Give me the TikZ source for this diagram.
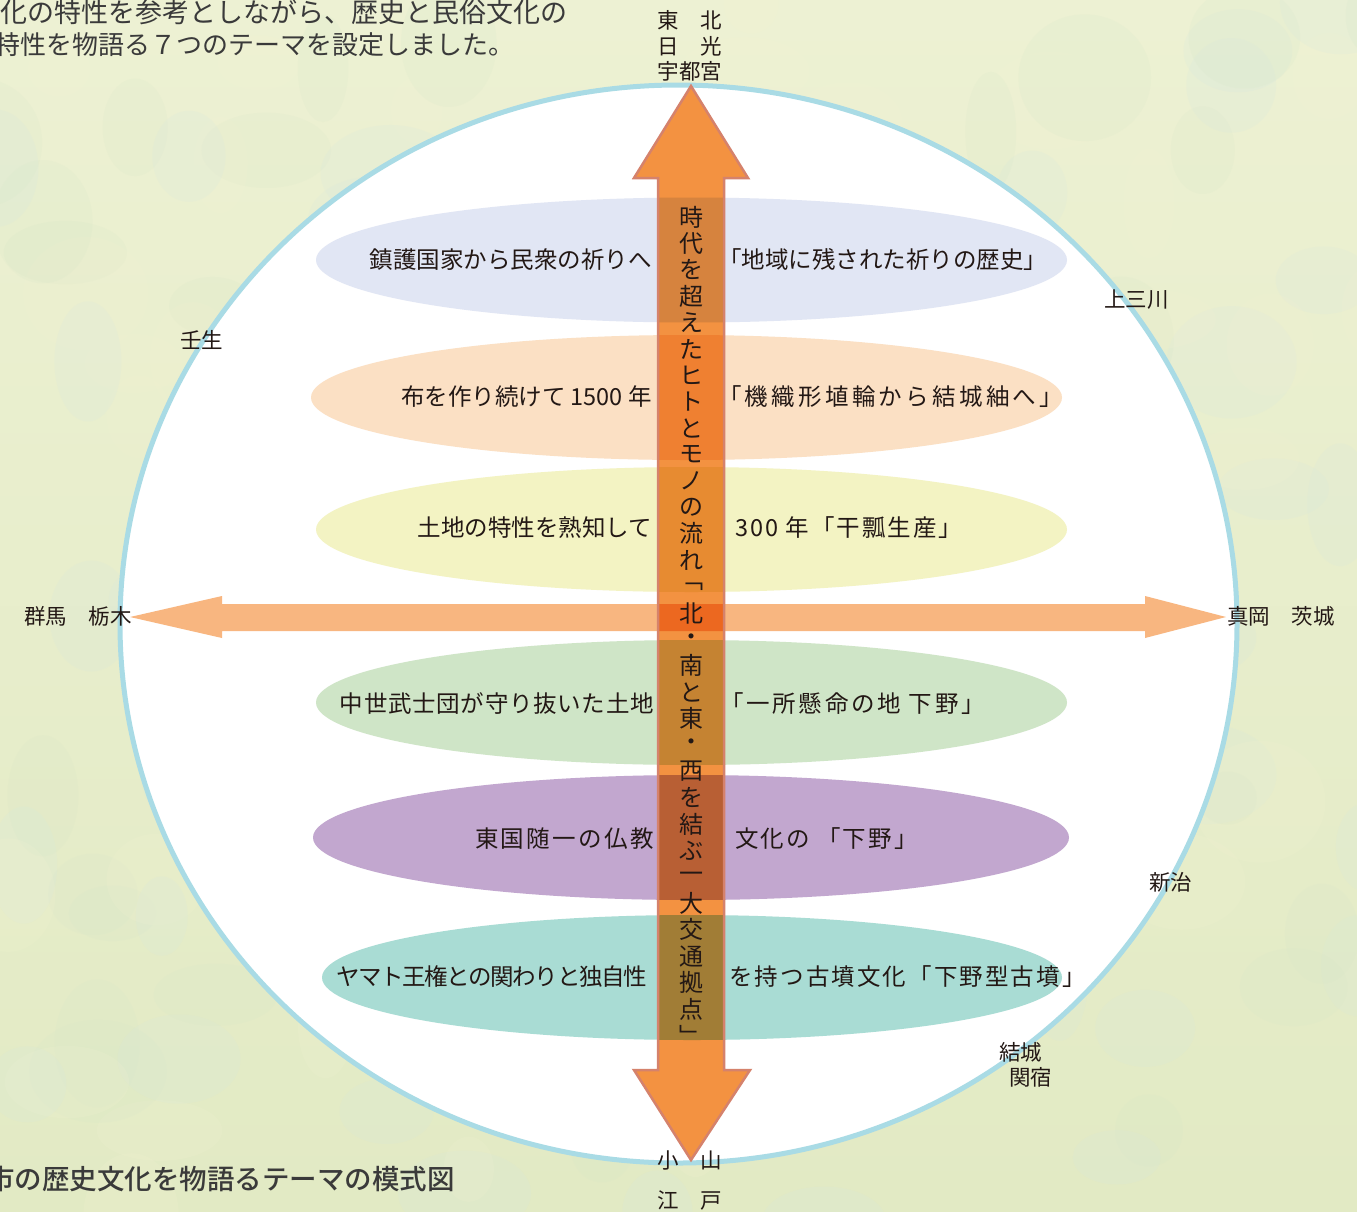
\documentclass[tikz,border=0pt]{standalone}
\usepackage{fontspec}
\setmainfont{Noto Sans CJK JP}
\newfontfamily\jpmed{Noto Sans CJK JP Medium}
\newcommand{\trk}[1]{\addfontfeature{LetterSpace=#1}}
\definecolor{bgA}{HTML}{EDF1D3}
\definecolor{bgB}{HTML}{E2EAC4}
\definecolor{blobA}{HTML}{D6E6C8}
\definecolor{blobB}{HTML}{F3F2D2}
\definecolor{blobC}{HTML}{D5E7E0}
\definecolor{ringc}{HTML}{A9DBE5}
\definecolor{elA}{HTML}{E1E6F4}
\definecolor{elB}{HTML}{FBE0C4}
\definecolor{elC}{HTML}{F3F3C3}
\definecolor{elD}{HTML}{CFE5C7}
\definecolor{elE}{HTML}{C2A7CF}
\definecolor{elF}{HTML}{A9DCD4}
\definecolor{varr}{HTML}{F39241}
\definecolor{varrline}{HTML}{D5826C}
\definecolor{harr}{HTML}{F8B680}
\definecolor{txt}{HTML}{231815}
\definecolor{captxt}{HTML}{3A3A3A}
\tikzset{
  band/.style={draw=none},
  lbl/.style={font=\fontsize{23.5}{26}\selectfont, text=txt, inner sep=0pt},
  geo/.style={font=\fontsize{21.5}{24}\selectfont, text=txt, inner sep=0pt},
  captext/.style={font=\fontsize{27}{30}\selectfont, text=captxt, inner sep=0pt},
  vch/.style={font=\fontsize{24}{26}\selectfont, text=txt, inner sep=0pt},
  blob/.style={opacity=0.18},
}
\begin{document}
\begin{tikzpicture}[x=1pt,y=-1pt]
\useasboundingbox (0,0) rectangle (1357,1211);
\clip (0,0) rectangle (1357,1211);
\shade[top color=bgA, bottom color=bgB] (0,0) rectangle (1357,1211);
% mottled background texture
\pgfmathsetseed{7}
\foreach \k in {1,...,160} {
  \pgfmathsetmacro{\bx}{rnd*1400-20}
  \pgfmathsetmacro{\by}{rnd*1250-20}
  \pgfmathsetmacro{\bw}{25+rnd*45}
  \pgfmathsetmacro{\bh}{25+rnd*40}
  \pgfmathtruncatemacro{\bc}{int(rnd*3)}
  \ifcase\bc
    \fill[blob, blobA] (\bx,\by) ellipse [x radius=\bw, y radius=\bh];
  \or
    \fill[blob, blobB] (\bx,\by) ellipse [x radius=\bw, y radius=\bh];
  \else
    \fill[blob, blobC] (\bx,\by) ellipse [x radius=\bw, y radius=\bh];
  \fi
}
% main circle
\draw[line width=5pt, draw=ringc, fill=white] (678.5,624) ellipse [x radius=558.5, y radius=539];
% theme bands
\fill[band, elA] (691.5,260) ellipse [x radius=375.5, y radius=62.5];
\fill[band, elB] (686.5,397.5) ellipse [x radius=375.5, y radius=62.5];
\fill[band, elC] (691.5,529.5) ellipse [x radius=375.5, y radius=62.5];
\fill[band, elD] (691.5,702.5) ellipse [x radius=375.5, y radius=62.5];
\fill[band, elE] (691,837.5) ellipse [x radius=378, y radius=62.5];
\fill[band, elF] (692,977.5) ellipse [x radius=370, y radius=62.5];
% horizontal arrow
\fill[harr, blend mode=multiply] (130,617) -- (222,596) -- (222,604) -- (1145,604) -- (1145,596) -- (1226,617) -- (1145,638) -- (1145,631) -- (222,631) -- (222,638) -- cycle;
% vertical arrow
\fill[varr, blend mode=multiply]
  (658,178) -- (634,178) -- (691,86) -- (748,178) -- (724,178) -- (724,1070) -- (750,1070) -- (691,1160) -- (634,1070) -- (658,1070) -- cycle;
\draw[draw=varrline, line width=2.5pt, line join=miter]
  (658,178) -- (634,178) -- (691,86) -- (748,178) -- (724,178) -- (724,1070) -- (750,1070) -- (691,1160) -- (634,1070) -- (658,1070) -- cycle;
% vertical title
\foreach \c [count=\i from 0] in {時,代,を,超,え,た,ヒ,ト,と,モ,ノ,の,流,れ,﹁,北,・,南,と,東,・,西,を,結,ぶ,一,大,交,通,拠,点,﹂}
  \node[vch] (v\i) at (691,217+26.4*\i) {\c};
% band labels
\node[lbl, anchor=east] (l1) at (652,260) {鎮護国家から民衆の祈りへ};
\node[lbl, anchor=west] (r1) at (718,260) {「地域に残された祈りの歴史」};
\node[lbl, anchor=east] (l2) at (652,397) {布を作り続けて 1500 年};
\node[lbl, anchor=west] (r2) at (718,397) {\trk{14}「機織形埴輪から結城紬へ」};
\node[lbl, anchor=east] (l3) at (652,528) {土地の特性を熟知して};
\node[lbl, anchor=west] (r3) at (735,528) {\trk{8.5}300 年「干瓢生産」};
\node[lbl, anchor=east] (l4) at (654,704) {\trk{3}中世武士団が守り抜いた土地};
\node[lbl, anchor=west] (r4) at (720,704) {\trk{11.5}「一所懸命の地 下野」};
\node[lbl, anchor=east] (l5) at (654.5,839) {\trk{10.5}東国随一の仏教};
\node[lbl, anchor=west] (r5) at (735,839) {\trk{9}文化の 「下野」};
\node[lbl, anchor=east] (l6) at (647,977) {\trk{-6}ヤマト王権との関わりと独自性};
\node[lbl, anchor=west] (r6) at (729,977) {\trk{9}を持つ古墳文化「下野型古墳」};
% place names
\node[geo] (n1) at (690,20) {東　北};
\node[geo] (n2) at (690,46) {日　光};
\node[geo] (n3) at (690,71) {宇都宮};
\node[geo] (s1) at (690,1160) {小　山};
\node[geo] (s2) at (690,1200) {江　戸};
\node[geo, anchor=west] (w1) at (24,616) {群馬　栃木};
\node[geo, anchor=west] (e1) at (1227,616) {真岡　茨城};
\node[geo, anchor=west] (p1) at (180,340) {壬生};
\node[geo, anchor=west] (p2) at (1104,300) {上三川};
\node[geo, anchor=west] (p3) at (1149,882) {新治};
\node[geo, anchor=west] (p4) at (999,1052) {結城};
\node[geo, anchor=west] (p5) at (1009,1077) {関宿};
% captions
\node[captext, anchor=east] (c1) at (568,12) {化の特性を参考としながら、歴史と民俗文化の};
\node[captext, anchor=east, font=\fontsize{26}{30}\selectfont] (c2) at (515,45) {特性を物語る７つのテーマを設定しました。};
\node[captext, anchor=west, font=\jpmed\fontsize{27.5}{30}\selectfont] (c3) at (-13,1179) {市の歴史文化を物語るテーマの模式図};
\end{tikzpicture}
\end{document}
